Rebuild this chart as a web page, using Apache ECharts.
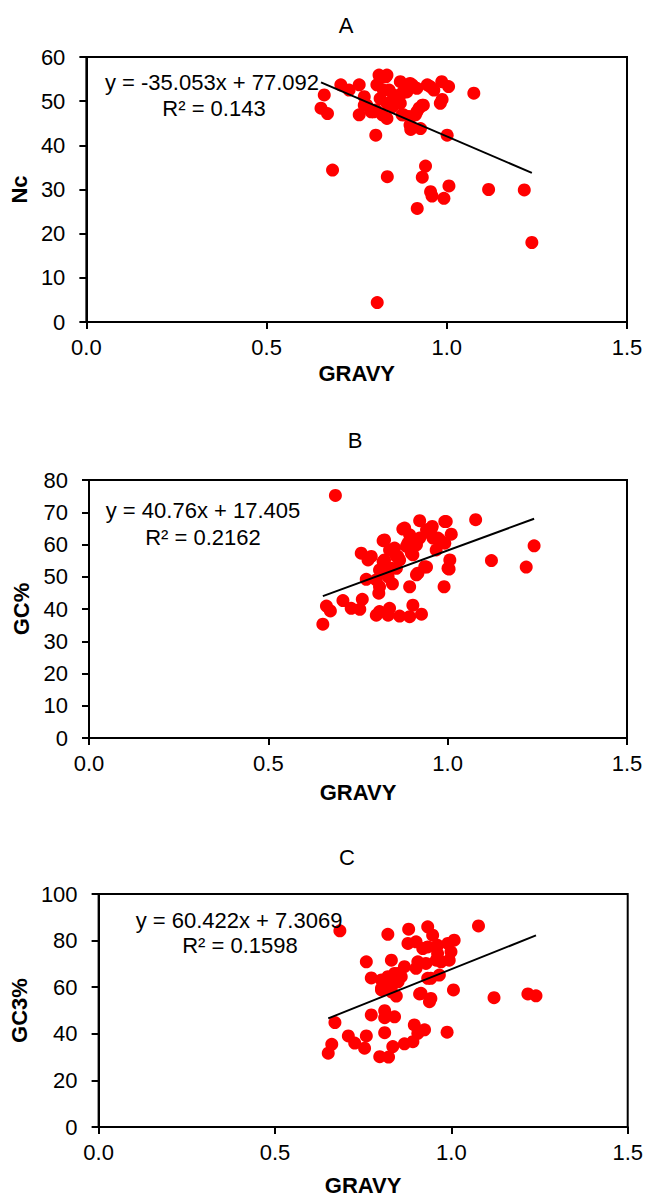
<!DOCTYPE html>
<html>
<head>
<meta charset="utf-8">
<title>GRAVY correlations</title>
<script src="https://cdn.jsdelivr.net/npm/echarts@6/dist/echarts.min.js"></script>
<style>
  html, body { margin: 0; padding: 0; background: #ffffff; }
  #chart { width: 646px; height: 1197px; }
</style>
</head>
<body>
<div id="chart"></div>
<script>
// GRAVY vs Nc (panel A)
const gravyNc = [
  [0.651,48.4],[0.660,51.4],[0.669,47.2],[0.683,34.4],[0.706,53.7],[0.729,52.5],
  [0.757,53.7],[0.771,51.0],[0.771,49.1],[0.757,46.9],[0.778,49.1],[0.790,47.6],
  [0.797,47.6],[0.803,42.3],[0.803,48.0],[0.806,53.7],[0.807,4.4],[0.812,55.9],
  [0.815,55.2],[0.815,50.6],[0.821,46.9],[0.824,52.5],[0.831,55.5],[0.834,55.9],
  [0.834,49.5],[0.834,46.1],[0.835,32.9],[0.840,52.5],[0.849,48.7],[0.852,51.4],
  [0.858,51.0],[0.871,54.4],[0.871,49.5],[0.876,51.8],[0.876,46.9],[0.880,46.9],
  [0.886,53.3],[0.889,52.1],[0.895,46.5],[0.898,54.0],[0.898,44.6],[0.900,43.6],
  [0.904,53.7],[0.913,46.9],[0.917,52.9],[0.917,47.6],[0.918,25.7],[0.923,48.4],
  [0.927,43.8],[0.932,49.1],[0.932,32.8],[0.935,49.1],[0.941,35.3],[0.946,53.7],
  [0.954,53.3],[0.955,29.5],[0.959,28.5],[0.964,52.5],[0.982,49.5],[0.986,54.4],
  [0.987,50.4],[0.992,28.0],[1.001,42.3],[1.005,53.3],[1.006,30.8],[1.075,51.8],
  [1.116,30.0],[1.215,29.9],[1.236,18.0]
];

// GRAVY vs GC% (panel B)
const gravyGC = [
  [0.652,35.3],[0.662,40.9],[0.673,39.4],[0.687,75.2],[0.708,42.6],[0.731,40.2],
  [0.755,39.9],[0.762,43.0],[0.759,57.3],[0.778,55.2],[0.773,49.2],[0.787,56.3],
  [0.801,38.1],[0.810,39.2],[0.801,49.0],[0.808,44.9],[0.810,46.9],[0.810,52.1],
  [0.815,51.6],[0.820,54.7],[0.820,61.2],[0.824,61.4],[0.824,55.2],[0.829,53.1],
  [0.834,38.1],[0.834,50.0],[0.838,40.2],[0.838,58.3],[0.843,52.6],[0.846,47.8],
  [0.852,58.9],[0.857,56.3],[0.857,52.6],[0.861,56.3],[0.866,37.8],[0.866,55.2],
  [0.875,64.8],[0.880,65.1],[0.885,59.4],[0.889,60.4],[0.894,37.6],[0.894,46.9],
  [0.894,63.0],[0.899,57.3],[0.903,41.2],[0.903,56.8],[0.913,50.6],[0.913,59.9],
  [0.917,51.1],[0.922,67.4],[0.922,62.0],[0.927,38.4],[0.936,53.1],[0.941,53.0],
  [0.941,64.6],[0.950,63.5],[0.955,65.1],[0.957,65.6],[0.959,62.0],[0.968,58.3],
  [0.973,62.0],[0.978,61.4],[0.990,46.9],[0.992,67.1],[0.992,60.4],[0.996,67.1],
  [1.001,52.6],[1.004,52.4],[1.006,55.2],[1.010,63.2],[1.078,67.7],[1.122,55.0],
  [1.219,53.0],[1.241,59.6]
];

// GRAVY vs GC3% (panel C)
const gravyGC3 = [
  [0.651,31.7],[0.661,35.5],[0.670,44.8],[0.684,84.2],[0.708,39.1],[0.726,36.0],
  [0.754,33.8],[0.759,39.1],[0.759,70.9],[0.773,48.1],[0.773,64.0],[0.797,30.2],
  [0.802,63.1],[0.802,59.5],[0.802,58.8],[0.811,49.9],[0.811,46.9],[0.811,40.5],
  [0.815,61.6],[0.820,82.7],[0.820,64.5],[0.822,30.0],[0.830,71.6],[0.830,60.2],
  [0.830,58.0],[0.834,34.5],[0.839,65.9],[0.839,62.3],[0.839,47.3],[0.844,56.2],
  [0.849,62.3],[0.849,65.9],[0.858,64.5],[0.867,68.8],[0.867,35.7],[0.877,78.8],
  [0.879,84.9],[0.891,36.6],[0.895,43.8],[0.900,79.5],[0.900,68.1],[0.905,40.2],
  [0.905,70.9],[0.910,57.1],[0.914,57.4],[0.919,76.6],[0.924,41.7],[0.928,70.2],
  [0.933,85.9],[0.933,63.8],[0.933,77.3],[0.938,53.8],[0.942,55.2],[0.942,63.8],
  [0.947,82.3],[0.957,71.6],[0.961,78.0],[0.961,74.5],[0.966,65.2],[0.971,70.9],
  [0.988,40.7],[0.990,78.8],[0.994,71.6],[0.999,75.2],[1.006,58.8],[1.008,80.2],
  [1.077,86.3],[1.121,55.5],[1.217,57.1],[1.240,56.3]
];

// Linear fits y = slope * x + intercept
const panelTitles = ['A', 'B', 'C'];
const yNames = ['Nc', 'GC%', 'GC3%'];
const xName = 'GRAVY';
const slopes = [-35.053, 40.76, 60.422];
const intercepts = [77.092, 17.405, 7.3069];
const rSquared = ['0.143', '0.2162', '0.1598'];
const yMax = [60, 80, 100];
const yStep = [10, 10, 20];

const datasets = [gravyNc, gravyGC, gravyGC3];

const FONT = "'Liberation Sans', Arial, sans-serif";
const FS = 22;
const INK = '#000000';

// plot boxes
const grids = [
  { left: 86, top: 57, width: 541, height: 265 },
  { left: 89, top: 480, width: 538, height: 258 },
  { left: 96, top: 894, width: 532, height: 233 }
];
const yNameGap = [47, 47, 61];
const xNameGap = [40, 43, 47];
const titlePos = [[346, 25], [355, 440], [347, 857]];
const eqPos = [[[212, 82], [214, 108]], [[203, 510], [203, 537]], [[239, 920], [240, 945]]];

function fmtEq(a, b) {
  const sign = b < 0 ? ' - ' : ' + ';
  return 'y = ' + a + 'x' + sign + Math.abs(b);
}

const chart = echarts.init(document.getElementById('chart'), null, { renderer: 'svg' });

const xAxes = [], yAxes = [], series = [], graphics = [];

datasets.forEach((data, i) => {
  xAxes.push({
    gridIndex: i, type: 'value', min: 0, max: 1.5, interval: 0.5,
    name: xName, nameLocation: 'middle', nameGap: xNameGap[i],
    nameTextStyle: { fontFamily: FONT, fontSize: FS, fontWeight: 'bold', color: INK },
    axisLine: { show: true, onZero: false, lineStyle: { color: INK, width: 2 } },
    axisTick: { show: true, inside: false, length: 7, lineStyle: { color: INK, width: 2 } },
    axisLabel: { fontFamily: FONT, fontSize: FS, color: INK, margin: 14,
      formatter: v => v.toFixed(1) },
    splitLine: { show: false }
  });
  yAxes.push({
    gridIndex: i, type: 'value', min: 0, max: yMax[i], interval: yStep[i],
    name: yNames[i], nameLocation: 'middle', nameGap: yNameGap[i], nameRotate: 90,
    nameTextStyle: { fontFamily: FONT, fontSize: FS, fontWeight: 'bold', color: INK },
    axisLine: { show: true, onZero: false, lineStyle: { color: INK, width: 2 } },
    axisTick: { show: true, inside: false, length: 7, lineStyle: { color: INK, width: 2 } },
    axisLabel: { fontFamily: FONT, fontSize: FS, color: INK, margin: 21 },
    splitLine: { show: false }
  });

  series.push({
    type: 'scatter', xAxisIndex: i, yAxisIndex: i, data: data,
    symbol: 'circle', symbolSize: 13,
    itemStyle: { color: '#ff0000', opacity: 1 },
    z: 2
  });

  const xs = data.map(p => p[0]);
  const x0 = Math.min(...xs), x1 = Math.max(...xs);
  series.push({
    type: 'line', xAxisIndex: i, yAxisIndex: i,
    data: [[x0, slopes[i] * x0 + intercepts[i]], [x1, slopes[i] * x1 + intercepts[i]]],
    symbol: 'none', lineStyle: { color: INK, width: 2 }, z: 3, silent: true
  });

  graphics.push({
    type: 'text', x: titlePos[i][0], y: titlePos[i][1],
    style: { text: panelTitles[i], fontFamily: FONT, fontSize: FS, fill: INK,
      align: 'center', verticalAlign: 'middle' }
  });
  graphics.push({
    type: 'text', x: eqPos[i][0][0], y: eqPos[i][0][1], z: 10,
    style: { text: fmtEq(slopes[i], intercepts[i]), fontFamily: FONT, fontSize: FS, fill: INK,
      align: 'center', verticalAlign: 'middle' }
  });
  graphics.push({
    type: 'text', x: eqPos[i][1][0], y: eqPos[i][1][1], z: 10,
    style: { text: 'R² = ' + rSquared[i], fontFamily: FONT, fontSize: FS, fill: INK,
      align: 'center', verticalAlign: 'middle' }
  });
});

chart.setOption({
  animation: false,
  backgroundColor: '#ffffff',
  grid: grids.map(g => Object.assign({ show: true, borderColor: INK, borderWidth: 2,
    backgroundColor: 'transparent', containLabel: false }, g)),
  xAxis: xAxes,
  yAxis: yAxes,
  series: series,
  graphic: graphics
});
</script>
</body>
</html>
